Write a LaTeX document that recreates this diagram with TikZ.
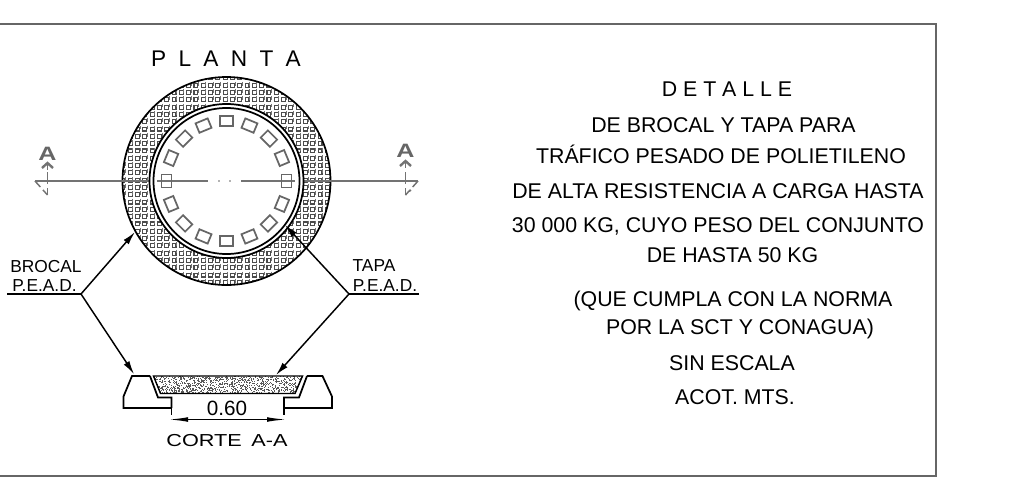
\documentclass[tikz,border=0pt]{standalone}
\usepackage{fontspec}
\setmainfont{Liberation Sans}
\usetikzlibrary{arrows.meta, calc, positioning}
\tikzset{
  plano/.style={line width=1.3pt, black},
  hilo/.style={line width=1.1pt, black},
  gris/.style={line width=1.1pt, black!55},
  rotulo/.style={anchor=base, inner sep=0pt, font=\fontsize{16}{18}\selectfont},
  llamada/.style={anchor=base, inner sep=0pt, font=\fontsize{13}{15}\selectfont},
  marca/.style={anchor=base, inner sep=0pt, text=black!60, font=\bfseries\fontsize{14.5}{16}\selectfont},
  ranura/.style={draw=black!60, line width=1.3pt, minimum width=9.8pt, minimum height=7.6pt, inner sep=0pt},
  flecha/.style={hilo, -{Latex[length=10pt, width=5pt]}}
}
\begin{document}
\begin{tikzpicture}[x=0.75pt, y=-0.75pt]
  \useasboundingbox (0,0) rectangle (1036,483);

  % marco
  \draw[line width=1.1pt, black!60] (0,24) -- (936,24) -- (936,476) -- (0,476);

  \coordinate (Centro) at (226.5,181);

  % corona con trama
  \begin{scope}
    \clip (Centro) circle (104);
    \foreach \i in {0,...,30}{
      \foreach \j in {0,...,30}{
        \draw[black!70, line width=0.85pt] (121+7.3*\i,76+7.3*\j) rectangle +(3.9,3.9);
        \draw[black!55, line width=0.7pt] (118.2+7.3*\i,74.5+7.3*\j) -- +(0,3.7);
      }
    }
  \end{scope}
  \draw[plano] (Centro) circle (104);

  % eje de corte
  \coordinate (EjeIzq) at (35,181);
  \coordinate (EjeDer) at (418,181);
  \draw[gris] (EjeIzq) -- (208,181);
  \draw[gris] (241,181) -- (EjeDer);

  % tapa
  \draw[plano, fill=white] (Centro) circle (77);
  \draw[plano, fill=white] (Centro) circle (73);
  \draw[gris] (157,181) -- (208,181);
  \draw[gris] (241,181) -- (295,181);
  \foreach \a in {0,22.5,...,337.5}{
    \node (Ranura\a) at ($(Centro)+(\a:60)$) [ranura, rotate=90-\a]{};
  }
  \fill[black!60] (219,181) circle (0.9);
  \fill[black!60] (230,181) circle (0.9);

  % marcas de corte
  \node (MarcaIzq) at (47.5,160) [marca]{\scalebox{1.3}[1]{A}};
  \node (MarcaDer) at (405.5,157.5) [marca]{\scalebox{1.3}[1]{A}};
  \draw[gris, line width=1.8pt] (42,168) -- (47.5,163) -- (53,168);
  \draw[gris, line width=1.8pt] (400,166) -- (405.5,161) -- (411,166);
  \draw[gris] (47.5,164) -- (47.5,170);
  \draw[gris] (405.5,162) -- (405.5,168);
  \draw[gris, dash pattern=on 9pt off 3pt] (47.5,172) -- (47.5,195);
  \draw[gris, dash pattern=on 9pt off 3pt] (405.5,172) -- (405.5,195);
  \draw[gris, dash pattern=on 6pt off 3pt] (EjeIzq) -- (47.5,195) -- (43,190);
  \draw[gris, dash pattern=on 6pt off 3pt] (EjeDer) -- (405.5,195) -- (411,190);

  % titulo
  \node (Planta) at (226,66) [rotulo, font=\fontsize{17}{19}\selectfont]{P\kern4.5pt{} L\kern4.5pt{} A\kern4.5pt{} N\kern4.5pt{} T\kern4.5pt{} A};

  % corte
  \draw[plano] (150,376) -- (132,376) -- (123.5,396.5) -- (123.5,408) -- (171.5,408);
  \draw[plano] (150,376) -- (158,397.5) -- (171.5,397.5) -- (171.5,408);
  \draw[plano] (307,376) -- (322.5,376) -- (332,396.5) -- (332,408) -- (284,408);
  \draw[plano] (307,376) -- (299,397.5) -- (284,397.5) -- (284,408);
  \begin{scope}
    \clip (153.5,376) -- (302.5,376) -- (295,393.5) -- (161,393.5) -- cycle;
    \pgfmathsetseed{7}
    \foreach \n in {1,...,1150}{
      \pgfmathsetmacro{\px}{153+150*rnd}
      \pgfmathsetmacro{\py}{376+18*rnd}
      \fill[black!65] (\px,\py) rectangle +(0.9,0.9);
    }
  \end{scope}
  \draw[hilo] (153.5,376) -- (160.5,393.5) -- (295,393.5) -- (302.5,376) -- cycle;
  \draw[hilo] (171.5,408) -- (171.5,415);
  \draw[hilo] (284,408) -- (284,415);
  \coordinate (CotaIzq) at (168,419.5);
  \coordinate (CotaDer) at (287,419.5);
  \draw[hilo, {Latex[length=15pt, width=3.5pt]}-{Latex[length=15pt, width=3.5pt]}] (CotaIzq) -- (CotaDer);
  \node (Cota) at (227,415) [rotulo, font=\fontsize{15.5}{17}\selectfont]{0.60};
  \node (Corte) at (227,446) [rotulo, font=\fontsize{13}{15}\selectfont]{\scalebox{1.25}[1]{CORTE\, A-A}};

  % llamadas
  \coordinate (BrocalVertice) at (81,294);
  \coordinate (BrocalFin) at (7,294);
  \coordinate (TapaVertice) at (349,294);
  \coordinate (TapaFin) at (419,294);
  \draw[plano] (BrocalFin) -- (BrocalVertice);
  \draw[plano] (TapaFin) -- (TapaVertice);
  \draw[flecha] (BrocalVertice) -- (135,232);
  \draw[flecha] (BrocalVertice) -- (134,374);
  \draw[flecha] (TapaVertice) -- (285,225);
  \draw[flecha] (TapaVertice) -- (276,375);
  \node (Brocal) at (46,272) [llamada]{BROCAL};
  \node (BrocalPead) at (44.5,291) [llamada]{P.E.A.D.};
  \node (Tapa) at (374,271) [llamada]{TAPA};
  \node (TapaPead) at (385,291) [llamada]{P.E.A.D.};

  % texto
  \node (Detalle) at (727,96.5) [rotulo]{D E T A L L E};
  \node (LineaA) at (723.5,132.5) [rotulo]{DE BROCAL Y TAPA PARA};
  \node (LineaB) at (721,163.5) [rotulo]{TRÁFICO PESADO DE POLIETILENO};
  \node (LineaC) at (718,198) [rotulo]{DE ALTA RESISTENCIA A CARGA HASTA};
  \node (LineaD) at (718,232.5) [rotulo]{30 000 KG, CUYO PESO DEL CONJUNTO};
  \node (LineaE) at (732.5,262.5) [rotulo]{DE HASTA 50 KG};
  \node (LineaF) at (733,306.5) [rotulo]{(QUE CUMPLA CON LA NORMA};
  \node (LineaG) at (740,334.5) [rotulo]{POR LA SCT Y CONAGUA)};
  \node (Escala) at (732,370.5) [rotulo]{SIN ESCALA};
  \node (Acot) at (735,404.5) [rotulo]{ACOT. MTS.};
\end{tikzpicture}
\end{document}
